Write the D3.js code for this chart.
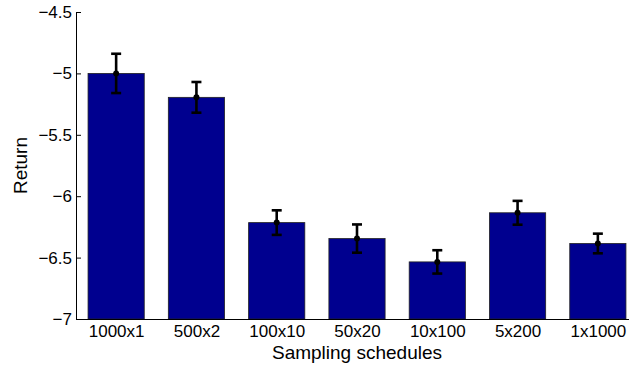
<!DOCTYPE html>
<html>
<head>
<meta charset="utf-8">
<script src="https://cdn.jsdelivr.net/npm/d3@7"></script>
<style>
  html, body { margin: 0; padding: 0; background: #fff; }
  svg { display: block; font-family: "Liberation Sans", Arial, sans-serif; }
</style>
</head>
<body>
<svg id="chart" width="629" height="365"></svg>
<script>
// Mean return per sampling schedule, with error-bar half-widths
const schedules = ["1000x1", "500x2", "100x10", "50x20", "10x100", "5x200", "1x1000"];
const meanReturn = [-5.0, -5.195, -6.215, -6.345, -6.535, -6.135, -6.385];
const errHalf = [0.16, 0.125, 0.10, 0.115, 0.095, 0.097, 0.08];
const yTicks = [-7, -6.5, -6, -5.5, -5, -4.5];

const svg = d3.select("#chart");
const plotLeft = 76, plotRight = 638, plotTop = 12, plotBottom = 319;

const x = d3.scaleLinear().domain([0.5, schedules.length + 0.5]).range([plotLeft, plotRight]);
const y = d3.scaleLinear().domain([-7, -4.5]).range([plotBottom, plotTop]);
const barW = 0.7 * (x(2) - x(1));

// bars
svg.append("g").selectAll("rect")
  .data(meanReturn)
  .join("rect")
  .attr("x", (d, i) => x(i + 1) - barW / 2)
  .attr("y", d => y(d))
  .attr("width", barW)
  .attr("height", d => y(-7) - y(d))
  .attr("fill", "#00008f")
  .attr("stroke", "#222")
  .attr("stroke-width", 0.8);

// error bars
const eb = svg.append("g").attr("stroke", "#000").attr("stroke-width", 2.6);
meanReturn.forEach((m, i) => {
  const cx = x(i + 1), hi = y(m + errHalf[i]), lo = y(m - errHalf[i]);
  eb.append("line").attr("x1", cx).attr("x2", cx).attr("y1", hi).attr("y2", lo);
  eb.append("line").attr("x1", cx - 5).attr("x2", cx + 5).attr("y1", hi).attr("y2", hi);
  eb.append("line").attr("x1", cx - 5).attr("x2", cx + 5).attr("y1", lo).attr("y2", lo);
  svg.append("circle").attr("cx", cx).attr("cy", y(m)).attr("r", 3).attr("fill", "#000");
});

// y axis
const yAxis = d3.axisLeft(y)
  .tickValues(yTicks)
  .tickFormat(d3.format("~g"))
  .tickSizeInner(-5)
  .tickSizeOuter(0)
  .tickPadding(4);
const gy = svg.append("g").attr("transform", `translate(${plotLeft},0)`).call(yAxis);
gy.select(".domain").attr("stroke", "#000").attr("stroke-width", 1);
gy.selectAll(".tick line").attr("stroke", "#000");
gy.selectAll(".tick text").attr("font-size", 17).attr("fill", "#000")
  .attr("font-family", "Liberation Sans, Arial, sans-serif");

// x axis
const xAxis = d3.axisBottom(x)
  .tickValues(d3.range(1, schedules.length + 1))
  .tickFormat((d) => schedules[d - 1])
  .tickSizeInner(0)
  .tickSizeOuter(0)
  .tickPadding(6);
const gx = svg.append("g").attr("transform", `translate(0,${plotBottom})`).call(xAxis);
gx.select(".domain").attr("stroke", "#000").attr("stroke-width", 1.2);
gx.selectAll(".tick text").attr("font-size", 17).attr("fill", "#000")
  .attr("font-family", "Liberation Sans, Arial, sans-serif");

// axis titles
svg.append("text")
  .attr("x", (plotLeft + plotRight) / 2)
  .attr("y", 359)
  .attr("text-anchor", "middle")
  .attr("font-size", 19)
  .text("Sampling schedules");

svg.append("text")
  .attr("transform", `translate(27,${(plotTop + plotBottom) / 2}) rotate(-90)`)
  .attr("text-anchor", "middle")
  .attr("font-size", 19)
  .text("Return");
</script>
</body>
</html>
